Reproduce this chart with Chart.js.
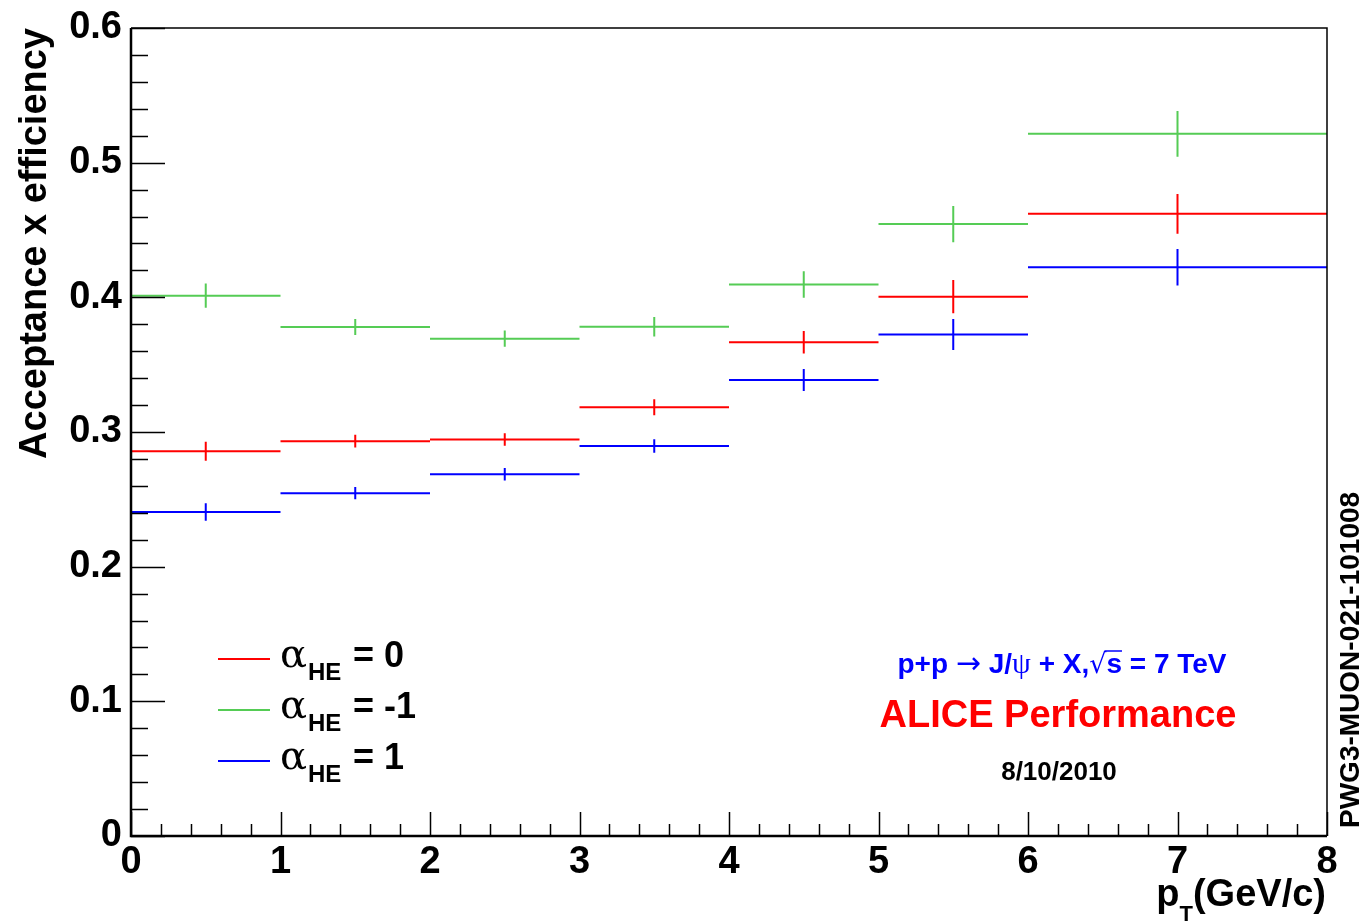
<!DOCTYPE html>
<html>
<head>
<meta charset="utf-8">
<title>Acceptance x efficiency vs pT</title>
<script src="https://cdn.jsdelivr.net/npm/chart.js@4.4.1/dist/chart.umd.min.js"></script>
<style>
  html, body { margin: 0; padding: 0; background: #fff; }
  #wrap { width: 1362px; height: 923px; }
</style>
</head>
<body>
<div id="wrap"><canvas id="accChart" width="1362" height="923"></canvas></div>
<script>
// pT bin edges (GeV/c)
const binEdges = [0, 1, 2, 3, 4, 5, 6, 8];

// acceptance x efficiency per bin, with statistical errors
const alpha0 = [0.2857, 0.2932, 0.2944, 0.3184, 0.3666, 0.4005, 0.4620];
const alpha0Err = [0.0070, 0.0047, 0.0046, 0.0060, 0.0084, 0.0124, 0.0147];

const alphaMinus1 = [0.4012, 0.3780, 0.3693, 0.3782, 0.4095, 0.4544, 0.5214];
const alphaMinus1Err = [0.0090, 0.0060, 0.0060, 0.0072, 0.0098, 0.0135, 0.0170];

const alphaPlus1 = [0.2406, 0.2546, 0.2686, 0.2896, 0.3386, 0.3724, 0.4223];
const alphaPlus1Err = [0.0065, 0.0046, 0.0047, 0.0050, 0.0082, 0.0115, 0.0136];

const legendLabels = ['0', '-1', '1'];

const RED = '#ff0000';
const GREEN = '#55cc55';
const BLUE = '#0000ff';

// horizontal bin-width segments, separated by gaps
function stepPoints(vals) {
    const pts = [];
    vals.forEach(function (v, i) {
        pts.push({ x: binEdges[i], y: v });
        pts.push({ x: binEdges[i + 1], y: v });
        pts.push({ x: binEdges[i + 1], y: null });
    });
    return pts;
}

// vertical error bars at bin centres
function errorPoints(vals, errs) {
    const pts = [];
    vals.forEach(function (v, i) {
        const c = (binEdges[i] + binEdges[i + 1]) / 2;
        pts.push({ x: c, y: v - errs[i] });
        pts.push({ x: c, y: v + errs[i] });
        pts.push({ x: c, y: null });
    });
    return pts;
}

function lineSet(label, data, color) {
    return {
        label: label,
        data: data,
        borderColor: color,
        backgroundColor: color,
        borderWidth: 2,
        pointRadius: 0,
        spanGaps: false,
        tension: 0
    };
}

const FONT = '"Liberation Sans", Arial, Helvetica, sans-serif';

const frameAndText = {
    id: 'frameAndText',
    afterDraw: function (chart) {
        const ctx = chart.ctx;
        const a = chart.chartArea;
        const xs = chart.scales.x;
        const ys = chart.scales.y;
        ctx.save();

        // frame
        ctx.strokeStyle = '#000';
        ctx.lineWidth = 1.5;
        ctx.beginPath();
        ctx.moveTo(a.left, a.top);
        ctx.lineTo(a.right, a.top);
        ctx.lineTo(a.right, a.bottom);
        ctx.stroke();
        ctx.lineWidth = 2.5;
        ctx.beginPath();
        ctx.moveTo(a.left, a.top);
        ctx.lineTo(a.left, a.bottom);
        ctx.lineTo(a.right, a.bottom);
        ctx.stroke();

        // inward ticks
        ctx.lineWidth = 1.5;
        ctx.beginPath();
        for (let i = 0; i <= 30; i++) {
            const py = Math.round(ys.getPixelForValue(i * 0.02)) + 0.5;
            const len = (i % 5 === 0) ? 34 : 17;
            ctx.moveTo(a.left, py);
            ctx.lineTo(a.left + len, py);
        }
        for (let i = 0; i <= 40; i++) {
            const px = Math.round(xs.getPixelForValue(i * 0.2)) + 0.5;
            const len = (i % 5 === 0) ? 24 : 12;
            ctx.moveTo(px, a.bottom);
            ctx.lineTo(px, a.bottom - len);
        }
        ctx.stroke();

        // legend
        const colors = [RED, GREEN, BLUE];
        const rowsY = [659, 710, 761];
        ctx.textBaseline = 'alphabetic';
        ctx.textAlign = 'left';
        colors.forEach(function (col, i) {
            const y = rowsY[i];
            ctx.strokeStyle = col;
            ctx.lineWidth = 2;
            ctx.beginPath();
            ctx.moveTo(218, y);
            ctx.lineTo(270, y);
            ctx.stroke();
            ctx.fillStyle = '#000';
            ctx.font = '40px "DejaVu Serif", serif';
            ctx.fillText('\u03b1', 280, y + 8);
            ctx.font = 'bold 24px ' + FONT;
            ctx.fillText('HE', 308, y + 21);
            ctx.font = 'bold 36px ' + FONT;
            ctx.fillText('= ' + legendLabels[i], 353, y + 8);
        });

        // reaction label
        const parts = [
            ['p+p ', 'bold 28px ' + FONT],
            ['\u2192', '30px "DejaVu Sans", sans-serif'],
            [' J/', 'bold 28px ' + FONT],
            ['\u03c8', '30px "Liberation Serif", serif'],
            [' + X,', 'bold 28px ' + FONT],
            ['\u221a', '27px "DejaVu Sans", sans-serif'],
            ['s', 'bold 28px ' + FONT],
            [' = 7 TeV', 'bold 28px ' + FONT]
        ];
        let total = 0;
        parts.forEach(function (p) { ctx.font = p[1]; total += ctx.measureText(p[0]).width; });
        let cx = 1062 - total / 2;
        const by = 673;
        ctx.fillStyle = BLUE;
        ctx.strokeStyle = BLUE;
        let sqrtEnd = 0;
        parts.forEach(function (p) {
            ctx.font = p[1];
            const w = ctx.measureText(p[0]).width;
            ctx.fillText(p[0], cx, by);
            if (p[0] === 's') {
                ctx.lineWidth = 1.5;
                ctx.beginPath();
                ctx.moveTo(sqrtEnd - 2, by - 22);
                ctx.lineTo(cx + w, by - 22);
                ctx.stroke();
            }
            cx += w;
            if (p[0] === '\u221a') sqrtEnd = cx;
        });

        ctx.textAlign = 'center';
        ctx.fillStyle = RED;
        ctx.font = 'bold 38px ' + FONT;
        ctx.fillText('ALICE Performance', 1058, 727);
        ctx.fillStyle = '#000';
        ctx.font = 'bold 26px ' + FONT;
        ctx.fillText('8/10/2010', 1059, 780);

        // x axis title
        ctx.textAlign = 'right';
        ctx.font = 'bold 38px ' + FONT;
        const rest = '(GeV/c)';
        const wRest = ctx.measureText(rest).width;
        ctx.fillText(rest, 1326, 906);
        ctx.font = 'bold 22px ' + FONT;
        const wT = ctx.measureText('T').width;
        ctx.fillText('T', 1326 - wRest, 921);
        ctx.font = 'bold 38px ' + FONT;
        ctx.fillText('p', 1326 - wRest - wT, 906);

        // vertical tag on the right
        ctx.save();
        ctx.translate(1359, 828);
        ctx.rotate(-Math.PI / 2);
        ctx.textAlign = 'left';
        ctx.font = 'bold 28px ' + FONT;
        ctx.fillText('PWG3-MUON-021-101008', 0, 0);
        ctx.restore();

        ctx.restore();
    }
};

new Chart(document.getElementById('accChart'), {
    type: 'line',
    data: {
        datasets: [
            lineSet('alpha_HE = 0', stepPoints(alpha0), RED),
            lineSet('alpha_HE = 0 err', errorPoints(alpha0, alpha0Err), RED),
            lineSet('alpha_HE = -1', stepPoints(alphaMinus1), GREEN),
            lineSet('alpha_HE = -1 err', errorPoints(alphaMinus1, alphaMinus1Err), GREEN),
            lineSet('alpha_HE = 1', stepPoints(alphaPlus1), BLUE),
            lineSet('alpha_HE = 1 err', errorPoints(alphaPlus1, alphaPlus1Err), BLUE)
        ]
    },
    options: {
        responsive: false,
        animation: false,
        layout: { padding: { left: 0, right: 35, top: 28, bottom: 0 } },
        plugins: {
            legend: { display: false },
            tooltip: { enabled: false }
        },
        scales: {
            x: {
                type: 'linear',
                min: 0,
                max: 8,
                afterFit: function (s) { s.height = 87; s.paddingLeft = 0; s.paddingRight = 0; },
                grid: { display: false, drawTicks: false },
                border: { display: false },
                ticks: {
                    stepSize: 1,
                    color: '#000',
                    padding: 8,
                    maxRotation: 0,
                    font: { family: FONT, size: 38, weight: 'bold', lineHeight: 1 }
                }
            },
            y: {
                min: 0,
                max: 0.6,
                afterFit: function (s) { s.width = 131; s.paddingTop = 0; s.paddingBottom = 0; },
                grid: { display: false, drawTicks: false },
                border: { display: false },
                ticks: {
                    stepSize: 0.1,
                    color: '#000',
                    padding: 9,
                    font: { family: FONT, size: 38, weight: 'bold', lineHeight: 1 }
                },
                title: {
                    display: true,
                    text: 'Acceptance x efficiency',
                    align: 'end',
                    color: '#000',
                    padding: { top: 13, bottom: 0 },
                    font: { family: FONT, size: 38, weight: 'bold' }
                }
            }
        }
    },
    plugins: [frameAndText]
});
</script>
</body>
</html>
